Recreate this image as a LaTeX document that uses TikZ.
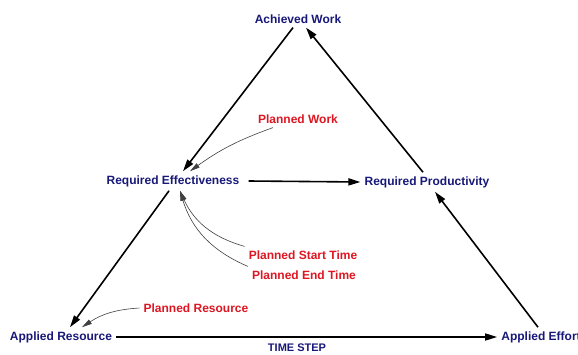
\documentclass[tikz,border=0pt]{standalone}
\usepackage{fontspec}
\setmainfont{Liberation Sans}
\usetikzlibrary{arrows.meta,positioning}

\definecolor{varblue}{RGB}{24,24,120}
\definecolor{inred}{RGB}{222,22,34}

\begin{document}
\begin{tikzpicture}[
    x=1pt, y=1pt,
    var/.style={
        text=varblue,
        font=\bfseries\fontsize{12}{14}\selectfont,
        inner sep=4pt
    },
    input/.style={
        text=inred,
        font=\bfseries\fontsize{12}{14}\selectfont,
        inner sep=4pt
    },
    flow/.style={
        -{Triangle[length=12pt,width=7pt]},
        line width=1.6pt,
        black
    },
    feed/.style={
        -{Triangle[length=10pt,width=5pt]},
        line width=0.6pt,
        black!75
    }
]
\useasboundingbox (0,0) rectangle (578,354);

% Main variables
\node[var] (achieved) at (298,335) {Achieved Work};
\node[var] (reqeff) at (173,173) {Required Effectiveness};
\node[var] (reqprod) at (427,172) {Required Productivity};
\node[var] (apres) at (61,17) {Applied Resource};
\node[var] (apeff) at (541,17) {Applied Effort};
\node[var, font=\bfseries\fontsize{11}{13}\selectfont] (timestep) at (297,6) {TIME STEP};

% Planned inputs
\node[input] (pwork) at (298,235) {Planned Work};
\node[input] (pstart) at (303,99) {Planned Start Time};
\node[input] (pend) at (304,79) {Planned End Time};
\node[input] (pres) at (196,46) {Planned Resource};

% Main arrows
\draw[flow] ([xshift=-5pt]achieved.south) -- ([xshift=10pt]reqeff.north);
\draw[flow] (reqeff.east) ++(5pt,0) -- (reqprod.west);
\draw[flow] ([xshift=-4pt]reqeff.south) -- ([xshift=9pt]apres.north);
\draw[flow] (apres.east) -- (apeff.west);
\draw[flow] ([xshift=-3pt]apeff.north) -- ([xshift=8pt]reqprod.south);
\draw[flow] ([xshift=-4pt]reqprod.north) -- ([xshift=8pt]achieved.south);

% Input arrows
\draw[feed] ([xshift=-25pt]pwork.south) to[bend right=8] ([xshift=17pt]reqeff.north);
\draw[feed] (pstart.north west) to[bend left=25] ([xshift=7pt]reqeff.south);
\draw[feed] (pend.north west) to[bend left=25] ([xshift=7pt]reqeff.south);
\draw[feed] (pres.west) to[bend right=15] ([xshift=21pt]apres.north);

\end{tikzpicture}
\end{document}
